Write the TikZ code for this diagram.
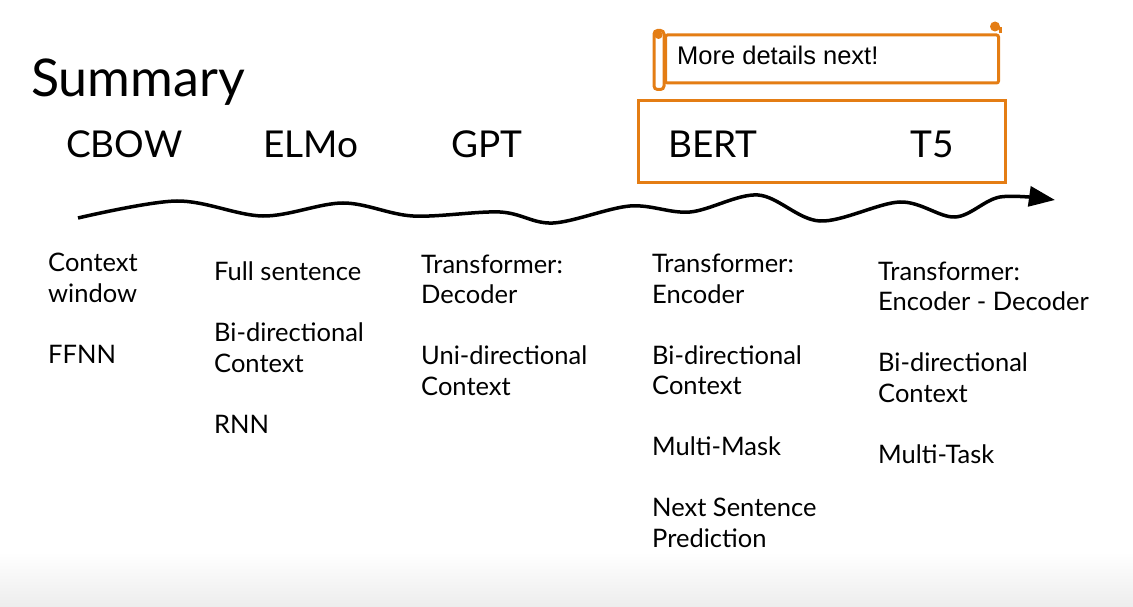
\documentclass[tikz,border=0pt]{standalone}
\usepackage{fontspec}
\setmainfont{Lato}
\newfontfamily\notefont{Liberation Sans}
\usetikzlibrary{positioning, arrows.meta}
\definecolor{scrollorange}{RGB}{228,125,20}

\begin{document}
\begin{tikzpicture}[x=1pt, y=-1pt, every node/.style={inner sep=0pt},
  model/.style={font=\fontsize{37}{44}\selectfont, anchor=base west},
  notes/.style={font=\fontsize{25.5}{30.5}\selectfont, align=left, anchor=base west},
  orangebox/.style={draw=scrollorange, line width=3pt},
  wave/.style={line width=3.5pt, -{Triangle[length=26pt, width=20pt]}}]
\useasboundingbox (0,0) rectangle (1133,607);
\shade[top color=white, bottom color=black!7] (0,552) rectangle (1133,607);

\node[font=\fontsize{52}{60}\selectfont, anchor=base west] (title) at (31,97) {Summary};

\node[orangebox, minimum width=367pt, minimum height=82pt] (recent) at (822,141.5) {};
\node[orangebox, rounded corners=2pt, minimum width=333pt, minimum height=48pt,
  anchor=north west] (scroll) at (664,33.5) {};
\draw[orangebox, rounded corners=3.5pt] (scroll.north west) ++(-10,-3) rectangle ++(10,59);
\fill[scrollorange] (scroll.north west) ++(-5.5,1.5) circle (4pt);
\draw[orangebox] (scroll.north east) -- ++(0,-6);
\fill[scrollorange] (scroll.north east) ++(-5,-7) circle (5pt);
\node[font=\notefont\fontsize{25.5}{30}\selectfont, anchor=base west] (more) at (677,65) {More details next!};

\node[model] (cbow) at (66,158) {CBOW};
\node[model] (elmo) at (263,158) {ELMo};
\node[model] (gpt) at (451,158) {GPT};
\node[model] (bert) at (668,158) {BERT};
\node[model] (tfive) at (910,158) {T5};

\draw[wave] plot[smooth, tension=0.55] coordinates {(78,218) (177,201) (263,216) (343,203)
  (413,216) (500,212) (553,223) (630,206) (690,212) (758,195) (820,221) (900,202)
  (955,217) (1000,197) (1055,200)};

\node[notes] (cbowtxt) at (48,363) {Context\\window\\[30.5pt]FFNN};
\node[notes] (elmotxt) at (214,433) {Full sentence\\[30.5pt]Bi-directional\\Context\\[30.5pt]RNN};
\node[notes] (gpttxt) at (421,395) {Transformer:\\Decoder\\[30.5pt]Uni-directional\\Context};
\node[notes] (berttxt) at (652,547) {Transformer:\\Encoder\\[30.5pt]Bi-directional\\Context\\[30.5pt]Multi-Mask\\[30.5pt]Next Sentence\\Prediction};
\node[notes] (tfivetxt) at (878,463) {Transformer:\\Encoder - Decoder\\[30.5pt]Bi-directional\\Context\\[30.5pt]Multi-Task};
\end{tikzpicture}
\end{document}
